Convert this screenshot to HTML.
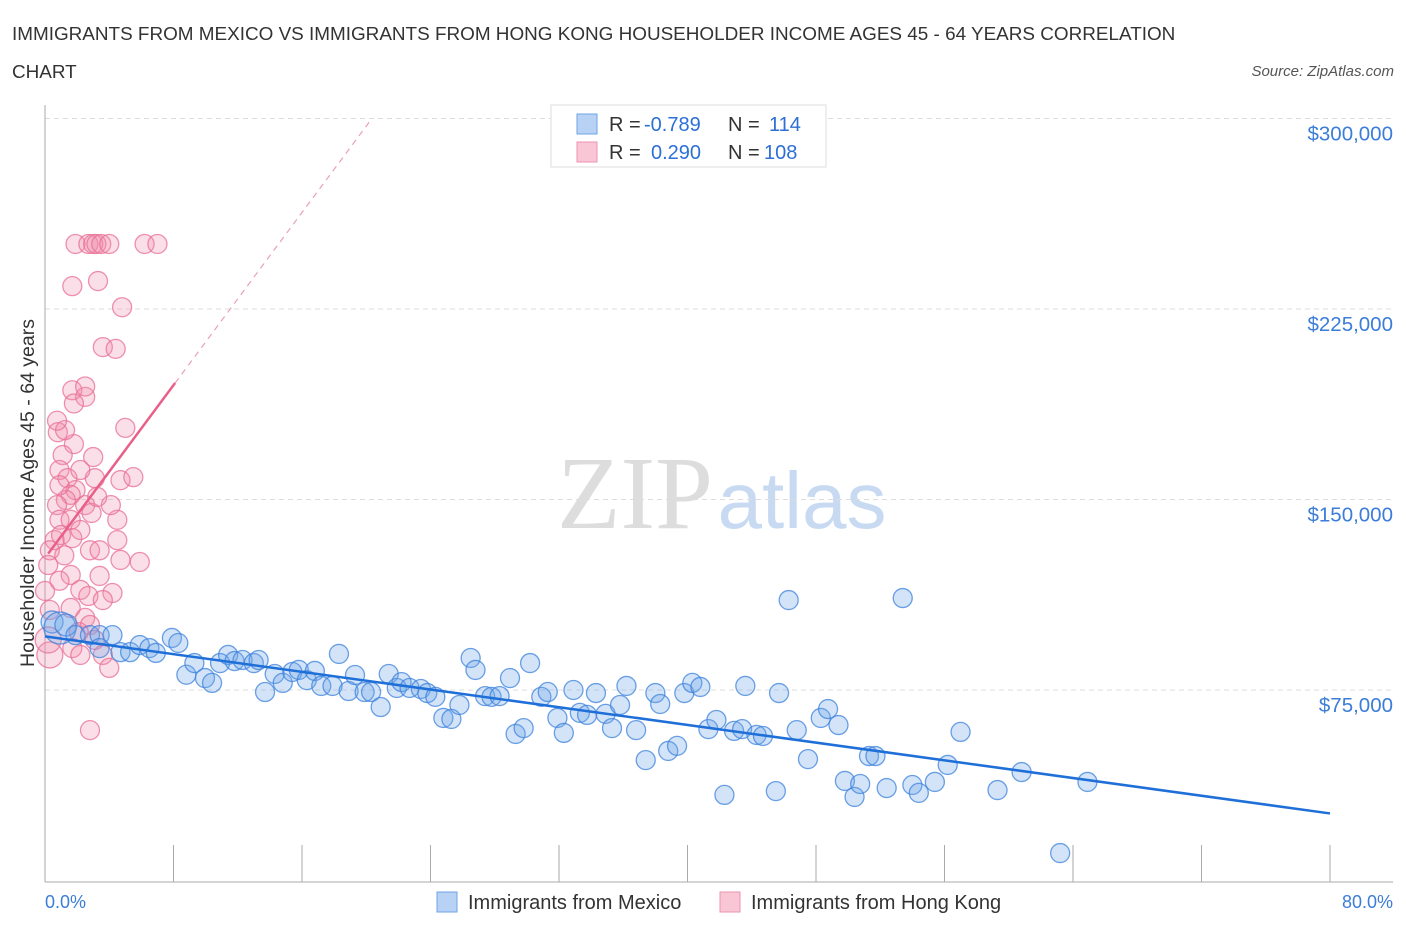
<!DOCTYPE html>
<html><head><meta charset="utf-8">
<style>
body{margin:0;background:#fff;font-family:"Liberation Sans",sans-serif;}
</style></head>
<body>
<svg id="chart" width="1406" height="930" xmlns="http://www.w3.org/2000/svg">
<text x="12" y="40" font-size="18.9" fill="#333">IMMIGRANTS FROM MEXICO VS IMMIGRANTS FROM HONG KONG HOUSEHOLDER INCOME AGES 45 - 64 YEARS CORRELATION</text>
<text x="12" y="78" font-size="18.9" fill="#333">CHART</text>
<text x="1394" y="76" font-size="15" fill="#555" font-style="italic" text-anchor="end">Source: ZipAtlas.com</text>
<g>
<text x="635" y="528" font-size="104" fill="#ddd" font-family="Liberation Serif,serif" text-anchor="middle">ZIP</text>
<text x="802" y="528" font-size="80" fill="#c8daf2" text-anchor="middle">atlas</text>
</g>
<g id="grid"></g>
<g id="axes"></g>
<g id="pts"></g>
<g id="lines"></g>
<text transform="translate(34,493) rotate(-90)" font-size="19.5" fill="#333" text-anchor="middle">Householder Income Ages 45 - 64 years</text>
<text x="45" y="908" font-size="18" fill="#3b7dd8">0.0%</text>
<text x="1393" y="908" font-size="18" fill="#3b7dd8" text-anchor="end">80.0%</text>
<g>
<rect x="551" y="105" width="275" height="62" fill="#fff" stroke="#ddd"/>
<rect x="577" y="114" width="20" height="20" fill="#b8d2f5" stroke="#6fa3e6"/>
<rect x="577" y="142" width="20" height="20" fill="#f9c6d6" stroke="#ec93b0"/>
<text x="609" y="131" font-size="20" fill="#333">R = </text><text x="644" y="131" font-size="20" fill="#2c6fd6">-0.789</text>
<text x="728" y="131" font-size="20" fill="#333">N = </text><text x="769" y="131" font-size="20" fill="#2c6fd6">114</text>
<text x="609" y="159" font-size="20" fill="#333">R = </text><text x="651" y="159" font-size="20" fill="#2c6fd6">0.290</text>
<text x="728" y="159" font-size="20" fill="#333">N = </text><text x="764" y="159" font-size="20" fill="#2c6fd6">108</text>
</g>
<g>
<rect x="437" y="892" width="20" height="20" fill="#b8d2f5" stroke="#6fa3e6"/>
<text x="468" y="909" font-size="20" fill="#333">Immigrants from Mexico</text>
<rect x="720" y="892" width="20" height="20" fill="#f9c6d6" stroke="#ec93b0"/>
<text x="751" y="909" font-size="20" fill="#333">Immigrants from Hong Kong</text>
</g>
</svg>
<script>
const yTicks=[75000,150000,225000,300000];
const yTickLabels=["$75,000","$150,000","$225,000","$300,000"];
const xTicks=[0,8,16,24,32,40,48,56,64,72,80];
const blueX=[0.44,0.93,1.3,1.9,2.8,3.4,4.2,3.4,4.7,5.3,5.9,6.5,6.9,7.9,8.3,8.8,9.3,9.96,10.4,10.9,11.4,11.8,12.3,13,13.3,13.7,14.3,14.8,15.4,15.8,16.3,16.8,17.2,17.9,18.3,18.9,19.3,19.9,20.3,20.9,21.4,21.9,22.2,22.7,23.4,23.8,24.3,24.8,25.3,25.8,26.5,26.8,27.4,27.8,28.3,28.95,29.3,29.8,30.2,30.9,31.3,31.9,32.3,32.9,33.3,33.75,34.3,34.9,35.3,35.8,36.2,36.8,37.4,38,38.3,38.8,39.35,39.8,40.3,40.8,41.3,41.8,42.3,42.9,43.4,43.6,44.3,44.7,45.5,45.7,46.3,46.8,47.5,48.3,48.75,49.4,49.8,50.4,50.75,51.3,51.7,52.4,53.4,54,54.4,55.4,56.2,57,59.3,60.8,63.2,64.9];
const blueY=[101.8,99.4,100.6,96.6,96.6,96.6,96.6,91.5,89.9,89.9,92.7,91.5,89.6,95.5,93.5,81,85.6,79.7,77.8,85.6,88.8,86.4,86.8,85.6,86.8,74.2,81.3,77.8,82.1,82.9,78.9,82.5,76.6,76.6,89.2,74.6,80.9,74.2,74.2,68.3,81.3,75.8,78.1,75.8,75.4,73.8,72.3,64,63.6,69.1,87.6,82.9,72.6,72.3,72.6,79.7,57.7,60,85.6,72.3,74.2,64,58.1,75,66,65.2,73.8,65.6,60,69.1,76.6,59.2,47.4,73.8,69.5,51,53,73.8,77.8,76.2,59.6,63.2,33.7,58.9,59.6,76.6,57.3,56.9,35.2,73.8,110.4,59.2,47.8,64,67.5,61.2,39.2,32.9,38,49,49,36.4,111.2,37.6,34.5,38.8,45.5,58.5,35.6,42.7,10.8,38.8];
const pinkX=[1.9,2.7,3.0,3.2,3.5,4.0,6.2,7.0,1.7,3.3,4.8,3.6,4.4,1.7,2.5,1.8,2.5,0.8,1.8,3.0,5.0,1.1,0.9,1.4,1.9,3.1,4.7,5.5,1.6,1.3,0.75,2.5,2.9,0.9,1.6,0.6,1.0,1.7,2.2,2.8,0.3,0.2,1.2,3.4,4.5,4.7,3.4,1.6,2.2,2.7,4.2,3.6,1.6,0.3,2.5,2.8,2.1,3.1,1.7,2.2,3.6,4.0,0.3,0.2,2.8,0,0.9,5.9,4.5,4.1,3.25,0.9,2.2,1.25,0.75];
const pinkY=[250.6,250.6,250.6,250.6,250.6,250.6,250.6,250.6,234,236,225.7,210,209.3,193,190.4,187.8,194.5,176.5,171.8,166.7,178.2,167.5,161.6,158.4,153.7,158.4,157.6,158.8,151.8,149.8,147.8,147.8,144.7,142,142,134,136,134.8,138,130,130,124.2,128,130,134,126.2,119.9,120.3,114.4,112,113.2,110.4,107.3,106.5,103.4,100.6,97.8,94.7,91.5,88.8,88.8,83.7,88.8,94.7,59.2,114,118,125.4,142,147.8,151,155.6,161.6,177.3,181];
const blueFit=[96.1,26.4];
const pinkFit=[127,8.5];
const X=v=>45+v*(1285/80);
const Y=v=>880.5-v*(190.5/75000);
const NS="http://www.w3.org/2000/svg";
function mk(tag,attrs,parent){const e=document.createElementNS(NS,tag);for(const k in attrs)e.setAttribute(k,attrs[k]);parent.appendChild(e);return e;}
const grid=document.getElementById('grid'),axes=document.getElementById('axes'),pts=document.getElementById('pts'),lines=document.getElementById('lines');
yTicks.forEach((t,i)=>{
 const g=mk('line',{x1:45,x2:1393,y1:Y(t),y2:Y(t),stroke:'#ddd','stroke-dasharray':'5,4'},grid);
 
 
 const l=mk('text',{x:1393,y:Y(t)+22,'font-size':20.5,fill:'#3b7dd8','text-anchor':'end'},axes);
 l.textContent=yTickLabels[i];
 
 
});
const ya=mk('line',{x1:45,x2:45,y1:105,y2:882,stroke:'#aaa'},axes);


const xa=mk('line',{x1:45,x2:1393,y1:882,y2:882,stroke:'#aaa'},axes);


xTicks.forEach(t=>{
 const k=mk('line',{x1:X(t),x2:X(t),y1:845,y2:882,stroke:'#aaa'},axes);
 
 
});
pinkX.forEach((x,i)=>{
 const c=mk('circle',{cx:X(x),cy:Y(pinkY[i]*1000),r:(i==62||i==63)?13:9.5,fill:'rgba(242,140,172,0.28)',stroke:'rgba(232,110,150,0.75)','stroke-width':1.3},pts);
 
 
});
blueX.forEach((x,i)=>{
 const c=mk('circle',{cx:X(x),cy:Y(blueY[i]*1000),r:i<3?(i==1?16:11):9.5,fill:'rgba(110,165,232,0.3)',stroke:'rgba(60,130,220,0.75)','stroke-width':1.3},pts);
 
 
});
const bl=mk('line',{x1:X(0),y1:Y(blueFit[0]*1000),x2:X(80),y2:Y(blueFit[1]*1000),stroke:'#1f6fd8','stroke-width':2.5},lines);


const pe=8.1,pd=(300-pinkFit[0])/pinkFit[1];
const pl=mk('line',{x1:X(0.2),y1:Y((pinkFit[0]+0.2*pinkFit[1])*1000),x2:X(pe),y2:Y((pinkFit[0]+pe*pinkFit[1])*1000),stroke:'#e8608a','stroke-width':2.5},lines);


const pdl=mk('line',{x1:X(pe),y1:Y((pinkFit[0]+pe*pinkFit[1])*1000),x2:X(pd),y2:Y(300000),stroke:'#eaa0b8','stroke-width':1.2,'stroke-dasharray':'6,5'},lines);


</script>
</body></html>
